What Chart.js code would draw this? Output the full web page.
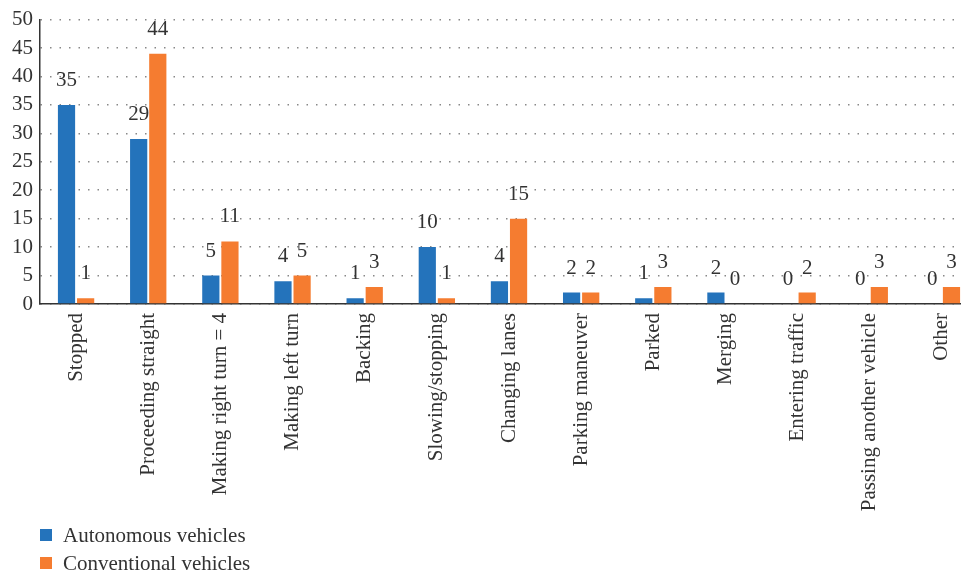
<!DOCTYPE html>
<html>
<head>
<meta charset="utf-8">
<script src="https://cdn.jsdelivr.net/npm/chart.js@4/dist/chart.umd.min.js"></script>
<style>
  html, body { margin: 0; padding: 0; background: #fff; overflow: hidden; }
  #wrap { position: relative; width: 961px; height: 576px; overflow: hidden; }
  #box { position: absolute; left: 0; top: 0; width: 980px; height: 576px; }
  #legend { position: absolute; left: 40px; top: 521px; font-family: "Liberation Serif", serif; font-size: 21px; color: #333; }
  .item { display: flex; align-items: center; height: 28px; }
  .sw { width: 12px; height: 12px; margin-right: 11px; }
</style>
</head>
<body>
<div id="wrap">
  <div id="box"><canvas id="chart"></canvas></div>
  <div id="legend"></div>
</div>
<script>
/* =========================
   DATA
========================= */

const categories = [
  "Stopped", "Proceeding straight", "Making right turn = 4", "Making left turn",
  "Backing", "Slowing/stopping", "Changing lanes", "Parking maneuver",
  "Parked", "Merging", "Entering traffic", "Passing another vehicle", "Other"
];
const autonomous = [35, 29, 5, 4, 1, 10, 4, 2, 1, 2, 0, 0, 0];
const conventional = [1, 44, 11, 5, 3, 1, 15, 2, 3, 0, 2, 3, 3];
const yTicks = [0, 5, 10, 15, 20, 25, 30, 35, 40, 45, 50];

const seriesNames = ["Autonomous vehicles", "Conventional vehicles"];
const colors = ["#2473bb", "#f57c30"];
const FONT = "Liberation Serif";

/* =========================
   VALUE LABELS
========================= */

const valueLabels = {
  id: "valueLabels",
  afterDatasetsDraw(chart) {
    const ctx = chart.ctx;
    ctx.save();
    ctx.font = "21px " + FONT;
    ctx.fillStyle = "#333";
    ctx.textAlign = "center";
    ctx.textBaseline = "bottom";
    chart.data.datasets.forEach((ds, i) => {
      const meta = chart.getDatasetMeta(i);
      meta.data.forEach((bar, j) => {
        ctx.fillText(String(ds.data[j]), bar.x, bar.y - 14);
      });
    });
    ctx.restore();
  }
};

/* =========================
   CHART
========================= */

new Chart(document.getElementById("chart"), {
  type: "bar",
  data: {
    labels: categories,
    datasets: [
      { label: seriesNames[0], data: autonomous, backgroundColor: colors[0] },
      { label: seriesNames[1], data: conventional, backgroundColor: colors[1] }
    ]
  },
  options: {
    responsive: true,
    maintainAspectRatio: false,
    animation: false,
    layout: { padding: { top: 1, right: 2, left: 0, bottom: 0 } },
    datasets: { bar: { categoryPercentage: 0.53, barPercentage: 0.9 } },
    plugins: {
      legend: { display: false },
      tooltip: { enabled: false }
    },
    scales: {
      x: {
        grid: { display: false },
        border: { display: true, color: "#333", width: 1.5 },
        ticks: {
          autoSkip: false,
          minRotation: 90,
          maxRotation: 90,
          color: "#333",
          padding: 1,
          font: { family: FONT, size: 21 }
        },
        afterFit(scale) { scale.height = 272; }
      },
      y: {
        min: 0,
        max: 50,
        afterBuildTicks(scale) { scale.ticks = yTicks.map(v => ({ value: v })); },
        grid: { color: "#888", lineWidth: 1.5, drawTicks: false },
        border: { display: true, color: "#333", width: 1.5, dash: [1.5, 8] },
        ticks: {
          color: "#333",
          padding: 7,
          font: { family: FONT, size: 21 }
        },
        afterFit(scale) { scale.width = 40; }
      }
    }
  },
  plugins: [valueLabels]
});

/* legend */
const legendEl = document.getElementById("legend");
seriesNames.forEach((name, i) => {
  const row = document.createElement("div");
  row.className = "item";
  row.innerHTML = '<span class="sw" style="background:' + colors[i] + '"></span>' + name;
  legendEl.appendChild(row);
});
</script>
</body>
</html>
